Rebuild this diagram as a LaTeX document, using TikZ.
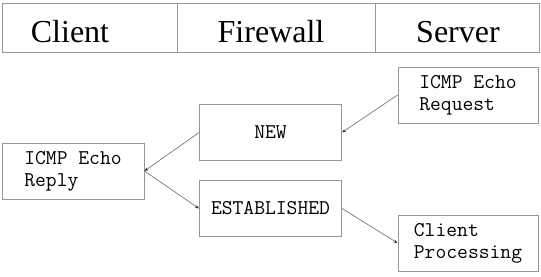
\documentclass[tikz,border=0pt]{standalone}
\usepackage{fontspec}
\setmainfont{Liberation Serif}
\usetikzlibrary{arrows.meta}
\definecolor{edgegray}{RGB}{150,150,150}
\definecolor{linegray}{RGB}{120,120,120}
\tikzset{
  cell/.style={draw=edgegray, line width=1pt, inner sep=0pt},
  headtext/.style={font=\fontsize{32}{36}\selectfont, anchor=base, inner sep=0pt},
  statebox/.style={draw=edgegray, line width=1pt, minimum width=142pt, minimum height=56pt,
    inner sep=0pt, align=left, font=\ttfamily\fontsize{21}{22}\selectfont},
  conn/.style={draw=linegray, line width=0.7pt, -{Stealth[length=4pt,width=3.2pt,color=black!80]}}
}
\begin{document}
\begin{tikzpicture}[x=1pt,y=-1pt]
\useasboundingbox (0,0) rectangle (541,276);
% header
\node[cell, minimum width=175pt, minimum height=49pt] (hc) at (89.5,27.5) {};
\node[cell, minimum width=198pt, minimum height=49pt] (hf) at (276,27.5) {};
\node[cell, minimum width=164pt, minimum height=49pt] (hs) at (457,27.5) {};
\node[headtext] (tc) at (70,42) {Client};
\node[headtext] (tf) at (271,42) {Firewall};
\node[headtext] (ts) at (458,42) {Server};
% state boxes
\node[statebox] (reply) at (73,171) {ICMP Echo\\Reply};
\node[statebox] (new) at (270.5,132.5) {NEW};
\node[statebox] (est) at (270.5,208.5) {ESTABLISHED};
\node[statebox, minimum width=140pt] (req) at (468,95) {ICMP Echo\\Request};
\node[statebox, minimum width=140pt] (cp) at (468,243) {Client\\Processing};
% connectors
\draw[conn] (req.west) -- (new.east);
\draw[conn] (new.west) -- (reply.east);
\draw[conn] (reply.east) -- (est.west);
\draw[conn] (est.east) -- (cp.west);
\end{tikzpicture}
\end{document}
